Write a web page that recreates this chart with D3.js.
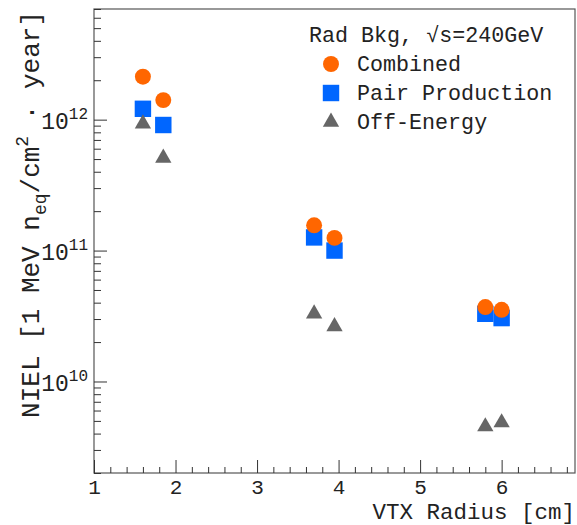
<!DOCTYPE html>
<html>
<head>
<meta charset="utf-8">
<script src="https://cdn.jsdelivr.net/npm/d3@7"></script>
<style>
  html, body { margin: 0; padding: 0; background: #fff; }
  svg { display: block; }
  text { font-family: "Liberation Mono", "DejaVu Sans Mono", monospace; fill: #222; }
</style>
</head>
<body>
<svg id="chart" width="577" height="525"></svg>
<script>
// VTX layer radii [cm]
const radii = [1.6, 1.85, 3.7, 3.95, 5.8, 6.0];
// NIEL per layer [1 MeV n_eq / cm^2 / year]
const combined       = [2.13e12, 1.41e12, 1.56e11, 1.25e11, 3.70e10, 3.53e10];
const pairProduction = [1.21e12, 9.1e11, 1.26e11, 1.0e11, 3.29e10, 3.05e10];
const offEnergy      = [9.3e11, 5.1e11, 3.29e10, 2.63e10, 4.52e9, 4.85e9];

const xTickValues = [1, 2, 3, 4, 5, 6];
const yDecades = [10, 11, 12];

const seriesNames = ["Combined", "Pair Production", "Off-Energy"];
const seriesColors = ["#ff6600", "#0066ff", "#666666"];
const legendHeader = "Rad Bkg, \u221As=240GeV";

const svg = d3.select("#chart");
const padL = 94, padR = 575, padT = 9, padB = 473;

const x = d3.scaleLinear().domain([1, 6.9]).range([padL, padR]);
const y = d3.scaleLog().domain([2e9, 7e12]).range([padB, padT]);

// frame
svg.append("rect")
  .attr("x", padL).attr("y", padT)
  .attr("width", padR - padL).attr("height", padB - padT)
  .attr("fill", "none").attr("stroke", "#555").attr("stroke-width", 1.2);

// x axis: minor ticks every 0.2, major ticks on integers
const xMinor = d3.range(1.2, 6.9, 0.2).filter(v => Math.abs(v - Math.round(v)) > 1e-6);
const xMinorAxis = d3.axisBottom(x).tickValues(xMinor).tickSize(-6).tickFormat("");
const xMajorAxis = d3.axisBottom(x).tickValues(xTickValues).tickSize(-13).tickFormat(d3.format("d"));

const gxm = svg.append("g").attr("transform", `translate(0,${padB})`).call(xMinorAxis);
const gx = svg.append("g").attr("transform", `translate(0,${padB})`).call(xMajorAxis);
[gxm, gx].forEach(g => {
  g.select(".domain").remove();
  g.selectAll(".tick line").attr("stroke", "#333");
});
gx.selectAll(".tick text")
  .attr("font-size", 21).attr("fill", "#222")
  .attr("font-family", "Liberation Mono, monospace")
  .attr("y", 21)
  .attr("dy", 0);

// y axis: major ticks at decades, minor at 2..9 x decade
const yMinor = [];
for (let e = 9; e <= 12; e++) {
  for (let m = 2; m <= 9; m++) {
    const v = m * Math.pow(10, e);
    if (v >= 2e9 && v <= 7e12) yMinor.push(v);
  }
}
const yMajor = yDecades.map(e => Math.pow(10, e));
const gym = svg.append("g").attr("transform", `translate(${padL},0)`)
  .call(d3.axisLeft(y).tickValues(yMinor).tickSize(-7).tickFormat(""));
const gy = svg.append("g").attr("transform", `translate(${padL},0)`)
  .call(d3.axisLeft(y).tickValues(yMajor).tickSize(-13).tickFormat(""));
[gym, gy].forEach(g => {
  g.select(".domain").remove();
  g.selectAll(".tick line").attr("stroke", "#333");
});
// decade labels as 10^n
gy.selectAll(".tick").each(function(d) {
  const t = d3.select(this).append("text")
    .attr("x", -6).attr("y", 9)
    .attr("text-anchor", "end")
    .attr("font-size", 23)
    .attr("fill", "#222");
  t.append("tspan").text("10");
  t.append("tspan").attr("font-size", 16).attr("dy", -10)
    .text(String(Math.round(Math.log10(d))));
});

// axis titles
svg.append("text")
  .attr("x", padR).attr("y", 519)
  .attr("text-anchor", "end").attr("font-size", 22.5)
  .text("VTX Radius [cm]");

const yt = svg.append("text")
  .attr("transform", `translate(39,11) rotate(-90)`)
  .attr("text-anchor", "end").attr("font-size", 26);
yt.append("tspan").text("NIEL [1 MeV n");
yt.append("tspan").attr("font-size", 18).attr("dy", 7).text("eq");
yt.append("tspan").attr("dy", -7).text("/cm");
yt.append("tspan").attr("font-size", 18).attr("dy", -11).text("2");
yt.append("tspan").attr("dy", 11).text(" \u00B7 year]");

// markers: squares and triangles first, circles on top
const symbols = [d3.symbolCircle, d3.symbolSquare, d3.symbolTriangle];
const symbolSizes = [200, 270, 115];
const allSeries = [combined, pairProduction, offEnergy];
const drawOrder = [1, 2, 0];

drawOrder.forEach(si => {
  const vals = allSeries[si];
  const sym = d3.symbol().type(symbols[si]).size(symbolSizes[si]);
  svg.append("g").selectAll("path")
    .data(radii.map((r, i) => [r, vals[i]]))
    .join("path")
    .attr("d", sym)
    .attr("transform", d => `translate(${x(d[0])},${y(d[1])})`)
    .attr("fill", seriesColors[si]);
});

// legend
const lg = svg.append("g");
lg.append("text").attr("x", 309).attr("y", 42).attr("font-size", 21.7).text(legendHeader);
seriesNames.forEach((name, i) => {
  const cy = 64 + i * 29;
  lg.append("path")
    .attr("d", d3.symbol().type(symbols[i]).size(symbolSizes[i])())
    .attr("transform", `translate(331,${cy})`)
    .attr("fill", seriesColors[i]);
  lg.append("text").attr("x", 357).attr("y", cy + 7).attr("font-size", 21.7).text(name);
});
</script>
</body>
</html>
